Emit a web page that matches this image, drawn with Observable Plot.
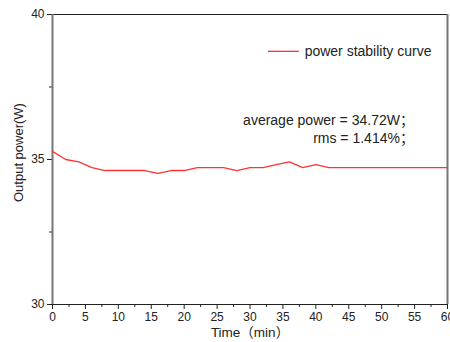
<!DOCTYPE html>
<html>
<head>
<meta charset="utf-8">
<script src="https://cdn.jsdelivr.net/npm/d3@7"></script>
<script src="https://cdn.jsdelivr.net/npm/@observablehq/plot@0.6"></script>
<style>
  body { margin: 0; background: #fff; overflow: hidden; }
  #chart svg { font-family: "Liberation Sans", "Noto Sans CJK SC", Arial, sans-serif; }
</style>
</head>
<body>
<div id="chart"></div>
<script>
const times = [0,2,4,6,8,10,12,14,16,18,20,22,24,26,28,30,32,34,36,38,40,42,44,46,48,50,52,54,56,58,60];
const power = [35.28,35.0,34.92,34.72,34.62,34.62,34.62,34.62,34.52,34.62,34.62,34.72,34.72,34.72,34.62,34.72,34.72,34.82,34.92,34.72,34.82,34.72,34.72,34.72,34.72,34.72,34.72,34.72,34.72,34.72,34.72];
const xMajorTicks = [0,5,10,15,20,25,30,35,40,45,50,55,60];
const xMinorTicks = [2.5,7.5,12.5,17.5,22.5,27.5,32.5,37.5,42.5,47.5,52.5,57.5];
const yMajorTicks = [30,35,40];
const yMinorTicks = [32.5,37.5];
const seriesName = "power stability curve";
const noteLines = ["average power = 34.72W；", "rms = 1.414%；"];
const xLabel = "Time（min）";
const yLabel = "Output power(W)";

const data = times.map((t, i) => ({t, p: power[i]}));
const ff = "'Liberation Sans', 'Noto Sans CJK SC', Arial, sans-serif";

const chart = Plot.plot({
  width: 450,
  height: 342,
  marginLeft: 52,
  marginRight: 3,
  marginTop: 14,
  marginBottom: 38,
  style: {fontSize: "12px", color: "#222", background: "#fff", fontFamily: ff},
  x: {domain: [0, 60]},
  y: {domain: [30, 40]},
  marks: [
    Plot.axisX({ticks: xMinorTicks, tickSize: 3, text: null, label: null, stroke: "#222"}),
    Plot.axisX({ticks: xMajorTicks, tickSize: 5, tickPadding: 3, fontSize: 12, label: null, stroke: "#222"}),
    Plot.axisY({ticks: yMinorTicks, tickSize: 3, text: null, label: null, stroke: "#222"}),
    Plot.axisY({ticks: yMajorTicks, tickSize: 5, tickPadding: 3, fontSize: 12, label: null, stroke: "#222"}),
    Plot.text([xLabel], {x: 30, y: 30, dy: 28, fontSize: 13.5, fill: "#222", fontFamily: ff}),
    Plot.text([yLabel], {x: -5.1, y: 35.24, rotate: -90, fontSize: 13, fill: "#222", fontFamily: ff}),
    Plot.ruleY([40], {stroke: "#222", strokeWidth: 1}),
    Plot.ruleY([30], {stroke: "#222", strokeWidth: 1}),
    Plot.ruleX([0], {stroke: "#777", strokeWidth: 2}),
    Plot.ruleX([60], {stroke: "#777", strokeWidth: 2}),
    Plot.line(data, {x: "t", y: "p", stroke: "#ff3333", strokeWidth: 1.3}),
    Plot.ruleY([38.73], {x1: 32.8, x2: 37.5, stroke: "#ff3333", strokeWidth: 1.3}),
    Plot.text([seriesName], {x: 38.3, y: 38.73, textAnchor: "start", fontSize: 14, fill: "#222", fontFamily: ff}),
    Plot.text([noteLines[0]], {x: 54.9, y: 36.34, textAnchor: "end", fontSize: 14, fill: "#222", fontFamily: ff}),
    Plot.text([noteLines[1]], {x: 54.9, y: 35.73, textAnchor: "end", fontSize: 14, fill: "#222", fontFamily: ff})
  ]
});
document.getElementById("chart").append(chart);
</script>
</body>
</html>
